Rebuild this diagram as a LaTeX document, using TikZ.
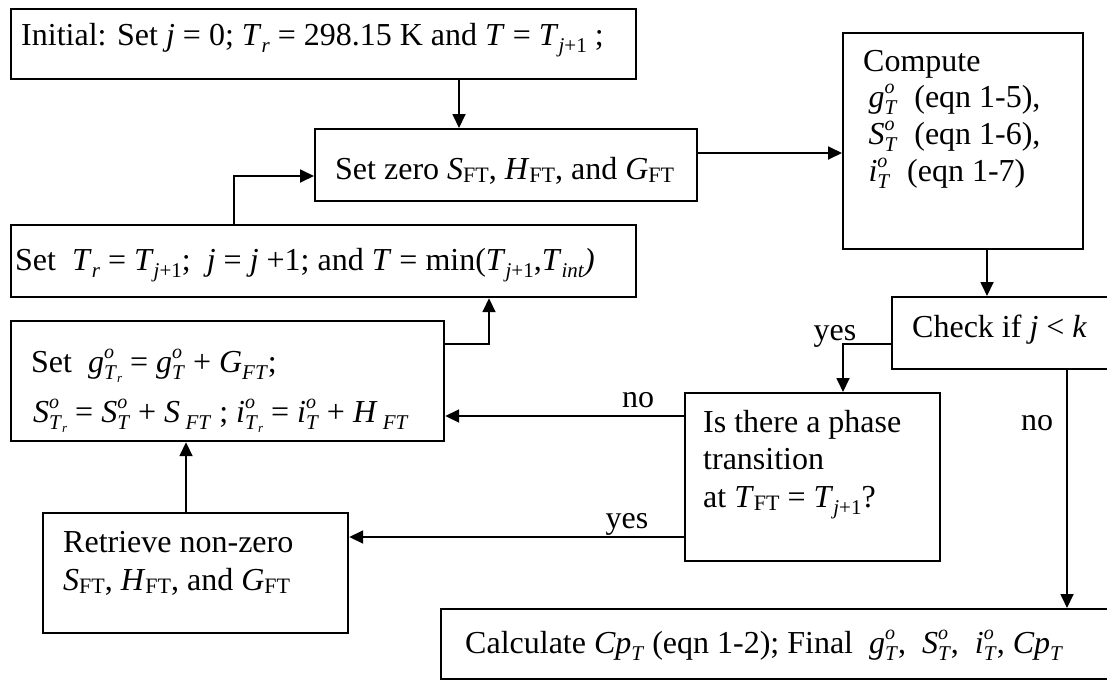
\documentclass[tikz,border=0pt]{standalone}
\usepackage{fontspec}
\setmainfont{Liberation Serif}
\usetikzlibrary{arrows.meta}
\newcommand\lo[1]{\raisebox{-0.22em}{\fontsize{21}{21}\selectfont #1}}
\newcommand\lof[1]{\raisebox{-0.1em}{\fontsize{22}{22}\selectfont #1}}
\newcommand\up[1]{\raisebox{0.42em}{\fontsize{20}{20}\selectfont #1}}
\newcommand\vsup[2]{\rlap{\smash{\up{\textit{#1}}}}\smash{\lo{#2}}}
\newcommand\Trr{\textit{T}\raisebox{-0.18em}{\fontsize{13}{13}\selectfont\textit{r}}}
\tikzset{
  box/.style={draw, line width=2.2pt, inner sep=0pt, anchor=north west},
  txt/.style={anchor=base west, inner sep=0pt, font=\fontsize{32}{37}\selectfont},
  lbl/.style={anchor=base, inner sep=0pt, font=\fontsize{32}{37}\selectfont},
  arr/.style={line width=1.8pt, -{Triangle[length=14pt,width=13pt]}}
}
\begin{document}
\begin{tikzpicture}[x=1pt,y=-1pt]
\useasboundingbox (0,0) rectangle (1107,680);
\clip (0,0) rectangle (1107,680);
\fill[white] (0,0) rectangle (1107,680);
% boxes
\node[box, minimum width=625pt, minimum height=70pt] (b1) at (10,8) {};
\node[box, minimum width=382pt, minimum height=72pt] (b2) at (314,128) {};
\node[box, minimum width=240pt, minimum height=216pt] (b3) at (842,32) {};
\node[box, minimum width=240pt, minimum height=72pt] (b4) at (891,296) {};
\node[box, minimum width=255pt, minimum height=168pt] (b5) at (684,392) {};
\node[box, minimum width=625pt, minimum height=72pt] (b6) at (10,224) {};
\node[box, minimum width=433pt, minimum height=120pt] (b7) at (10,320) {};
\node[box, minimum width=305pt, minimum height=120pt] (b8) at (42,512) {};
\node[box, minimum width=700pt, minimum height=70pt] (b9) at (440,608) {};
% texts
\node[txt] (t1) at (21,45) {Initial: Set \textit{j} = 0; \textit{T}\lo{\textit{r}} = 298.15 K and \textit{T} = \textit{T}\lo{\textit{j}+1} ;};
\node[txt] (t2) at (335,179) {Set zero \textit{S}\lof{FT}, \textit{H}\lof{FT}, and \textit{G}\lof{FT}};
\node[txt] (t3a) at (863,71) {Compute};
\node[txt] (t3b) at (863,107) {\,\textit{g}\vsup{o}{\textit{T}}\; (eqn 1-5),};
\node[txt] (t3c) at (863,144) {\,\textit{S}\vsup{o}{\textit{T}}\; (eqn 1-6),};
\node[txt] (t3d) at (863,181) {\,\textit{i}\vsup{o}{\textit{T}}\; (eqn 1-7)};
\node[txt] (t4) at (912,337) {Check if \textit{j} < \textit{k}};
\node[txt] (t5a) at (703,432) {Is there a phase};
\node[txt] (t5b) at (703,469) {transition};
\node[txt] (t5c) at (703,507) {at \textit{T}\lof{FT} = \textit{T}\lo{\textit{j}+1}?};
\node[txt] (t6) at (15,270) {Set \ \textit{T}\lo{\textit{r}} = \textit{T}\lo{\textit{j}+1}; \ \textit{j} = \textit{j} +1; and \textit{T} = min(\textit{T}\lo{\textit{j}+1},\textit{T}\lo{\textit{int}}\textit{)}};
\node[txt] (t7a) at (31,372) {Set \ \textit{g}\vsup{o}{\Trr} = \textit{g}\vsup{o}{\textit{T}} + \textit{G}\lo{\textit{FT}};};
\node[txt] (t7b) at (33,422) {\textit{S}\vsup{o}{\Trr} = \textit{S}\vsup{o}{\textit{T}} + \textit{S}\,\lo{\textit{FT}} ; \textit{i}\vsup{o}{\Trr} = \textit{i}\vsup{o}{\textit{T}} + \textit{H}\,\lo{\textit{FT}}};
\node[txt] (t8a) at (63,552) {Retrieve non-zero};
\node[txt] (t8b) at (63,590) {\textit{S}\lof{FT}, \textit{H}\lof{FT}, and \textit{G}\lof{FT}};
\node[txt] (t9) at (465,653) {Calculate \textit{Cp}\lo{\textit{T}} (eqn 1-2); Final \ \textit{g}\vsup{o}{\textit{T}},\ \ \textit{S}\vsup{o}{\textit{T}},\ \ \textit{i}\vsup{o}{\textit{T}},\ \textit{Cp}\lo{\textit{T}}};
% labels
\node[lbl] (l1) at (835,340) {yes};
\node[lbl] (l2) at (638,407) {no};
\node[lbl] (l3) at (627,528) {yes};
\node[lbl] (l4) at (1037,430) {no};
% helper coordinates
\coordinate (x459) at (459,0);
\coordinate (x987) at (987,0);
\coordinate (x843) at (843,0);
\coordinate (x1067) at (1067,0);
\coordinate (x489) at (489,0);
\coordinate (x234) at (234,0);
\coordinate (x186) at (186,0);
\coordinate (y153) at (0,153);
\coordinate (y344) at (0,344);
\coordinate (y416) at (0,416);
\coordinate (y537) at (0,537);
\coordinate (y176) at (0,176);
% connectors
\draw[arr] (b1.south -| x459) -- (b2.north -| x459);
\draw[arr] (b2.east |- y153) -- (b3.west |- y153);
\draw[arr] (b3.south -| x987) -- (b4.north -| x987);
\draw[arr] (b4.west |- y344) -| (b5.north -| x843);
\draw[arr] (b5.west |- y416) -- (b7.east |- y416);
\draw[arr] (b5.west |- y537) -- (b8.east |- y537);
\draw[arr] (b4.south -| x1067) -- (b9.north -| x1067);
\draw[arr] (b7.east |- y344) -| (b6.south -| x489);
\draw[arr] (b6.north -| x234) |- (b2.west |- y176);
\draw[arr] (b8.north -| x186) -- (b7.south -| x186);
\end{tikzpicture}
\end{document}
